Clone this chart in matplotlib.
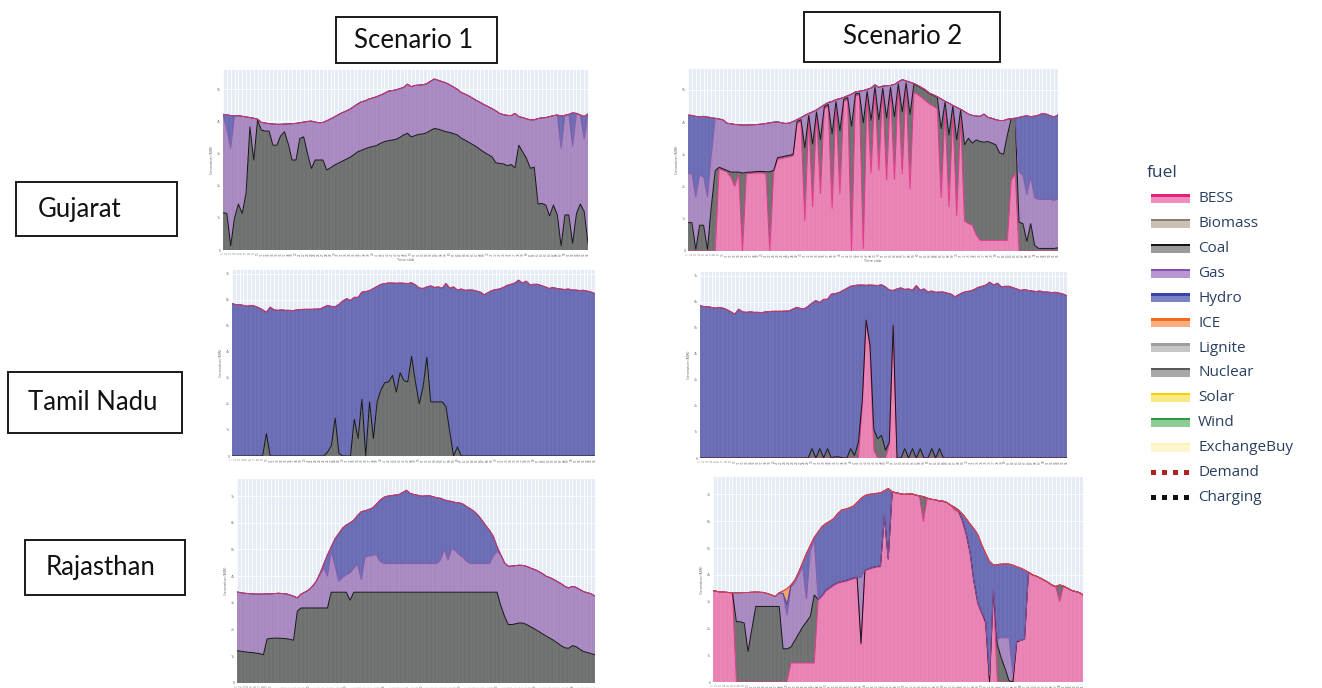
import numpy as np
import matplotlib.pyplot as plt
from matplotlib.patches import Rectangle

plt.rcParams['font.family'] = ['Open Sans', 'DejaVu Sans']

W, H = 1322, 688
slots = np.arange(96)
slot_labels = [str(i + 1) for i in slots]

# ---------------- Gujarat (values in axis tick units) ----------------
guj_demand = [4.22, 4.21, 4.18, 4.17, 4.18, 4.16, 4.14, 4.12, 4.10, 4.07,
              3.97, 3.95, 3.93, 3.92, 3.91, 3.91, 3.92, 3.92, 3.93, 3.94,
              3.96, 3.98, 4.00, 4.01, 3.98, 3.96, 3.97, 4.02, 4.08, 4.14,
              4.21, 4.27, 4.32, 4.38, 4.46, 4.54, 4.61, 4.64, 4.70, 4.73,
              4.77, 4.82, 4.87, 4.94, 4.96, 4.98, 5.02, 5.06, 5.16, 5.08,
              5.12, 5.13, 5.14, 5.17, 5.25, 5.32, 5.28, 5.24, 5.20, 5.14,
              5.07, 5.00, 4.90, 4.85, 4.79, 4.72, 4.65, 4.59, 4.52, 4.46,
              4.40, 4.33, 4.25, 4.21, 4.19, 4.18, 4.25, 4.15, 4.12, 4.08,
              4.05, 4.05, 4.09, 4.11, 4.12, 4.15, 4.18, 4.20, 4.17, 4.19,
              4.22, 4.27, 4.25, 4.20, 4.16, 4.23]

# scenario 1: stacked tops (coal, gas), hydro fills up to demand
guj1_coal = [1.16, 1.14, 0.13, 1.00, 1.43, 1.14, 1.76, 3.83, 2.80, 4.04,
             3.73, 3.70, 3.70, 3.26, 3.26, 3.55, 3.68, 3.30, 2.80, 2.80,
             3.47, 3.52, 3.00, 2.54, 2.80, 2.80, 2.80, 2.49, 2.56, 2.64,
             2.70, 2.76, 2.82, 2.88, 2.96, 3.05, 3.10, 3.15, 3.19, 3.22,
             3.25, 3.32, 3.37, 3.40, 3.42, 3.44, 3.50, 3.58, 3.63, 3.52,
             3.56, 3.60, 3.61, 3.65, 3.72, 3.78, 3.76, 3.72, 3.68, 3.66,
             3.62, 3.58, 3.48, 3.42, 3.35, 3.28, 3.21, 3.12, 3.04, 2.97,
             2.90, 2.72, 2.69, 2.68, 2.62, 2.66, 2.56, 3.26, 3.05, 2.85,
             2.54, 2.58, 1.43, 1.45, 1.40, 1.06, 1.40, 1.10, 0.13, 1.09,
             1.09, 0.21, 1.14, 1.43, 1.20, 0.21]
guj1_gas = ([4.22, 3.75, 3.16] + guj_demand[3:88]
            + [3.16, 4.19, 4.22, 3.23, 4.25, 4.20, 3.45, 4.23])

# scenario 2: stacked tops (bess, coal, gas), hydro up to demand
guj2_bess = [0, 0, 0, 0, 0, 0, 0, 0,
             2.55, 2.50, 2.45, 2.30, 2.00, 2.40, 0.00, 2.40, 2.40, 2.42,
             2.42, 2.42, 2.40, 0.00, 2.45, 2.85, 2.87, 2.90, 2.92, 2.95,
             3.96, 4.02, 0.93, 4.15, 1.37, 4.26, 1.78, 4.42, 4.49, 1.32,
             4.58, 1.78, 4.65, 4.70, 0.00, 4.82, 4.84, 0.07, 4.90, 2.41,
             5.04, 2.50, 5.00, 2.20, 5.02, 2.23, 5.13, 2.40, 5.16, 1.92,
             4.93, 4.85, 4.77, 4.66, 4.56, 4.50, 4.41, 1.66, 4.35, 1.37,
             4.25, 1.10, 4.15, 0.93, 0.85, 0.80, 0.50, 0.33, 0.33, 0.33,
             0.33, 0.33, 0.33, 0.33, 0.33, 2.20, 2.40, 0, 0, 0,
             0, 0, 0, 0, 0, 0, 0, 0]
guj2_coal = [0.88, 0.88, 0.05, 0.80, 0.80, 0.05, 1.40, 2.50,
             2.60, 2.55, 2.50, 2.45, 2.45, 2.45, 2.42, 2.44, 2.45, 2.46,
             2.47, 2.47, 2.46, 2.46, 2.50, 2.90, 2.92, 2.95, 2.97, 3.00,
             4.02, 4.08, 3.21, 4.21, 3.32, 4.32, 3.46, 4.48, 4.55, 3.64,
             4.64, 3.73, 4.71, 4.76, 3.87, 4.88, 4.90, 3.98, 4.96, 4.06,
             5.10, 4.08, 5.06, 4.13, 5.08, 4.17, 5.19, 4.32, 5.22, 4.24,
             5.18, 5.12, 5.05, 4.98, 4.88, 4.83, 4.77, 3.80, 4.63, 3.60,
             4.50, 3.45, 4.38, 3.30, 3.50, 3.35, 3.45, 3.40, 3.38, 3.40,
             3.35, 3.30, 3.05, 3.00, 3.60, 4.11, 4.12, 0.90, 0.85, 0.30,
             0.85, 0.18, 0.08, 0.08, 0.08, 0.08, 0.08, 0.10]
guj2_gas = ([2.40, 2.40, 1.68, 2.35, 2.30, 1.68, 3.00] + guj_demand[7:85]
            + [2.45, 2.35, 1.75, 2.30, 1.65, 1.60, 1.60, 1.60, 1.60, 1.57, 1.62])

# ---------------- Tamil Nadu ----------------
tn_demand = [5.86, 5.82, 5.82, 5.79, 5.76, 5.79, 5.76, 5.70, 5.62, 5.53,
             5.72, 5.62, 5.60, 5.62, 5.60, 5.60, 5.59, 5.62, 5.63, 5.64,
             5.64, 5.64, 5.65, 5.65, 5.72, 5.79, 5.75, 5.74, 5.83, 5.96,
             6.05, 5.98, 6.10, 6.10, 6.30, 6.32, 6.36, 6.44, 6.52, 6.60,
             6.63, 6.65, 6.65, 6.64, 6.65, 6.64, 6.63, 6.66, 6.58, 6.46,
             6.44, 6.50, 6.54, 6.48, 6.50, 6.45, 6.63, 6.45, 6.50, 6.38,
             6.42, 6.37, 6.38, 6.38, 6.34, 6.30, 6.20, 6.28, 6.36, 6.40,
             6.42, 6.48, 6.56, 6.60, 6.65, 6.76, 6.65, 6.72, 6.58, 6.60,
             6.60, 6.55, 6.50, 6.44, 6.48, 6.44, 6.42, 6.40, 6.42, 6.38,
             6.38, 6.36, 6.37, 6.34, 6.30, 6.24]
tn1_coal = ([0] * 9 + [0.86] + [0] * 15
            + [0.15, 0.40, 1.46, 0.10, 0, 0, 0,
               1.41, 0.67, 2.18, 0.00, 2.08, 0.67, 2.10, 2.55, 2.82, 2.85,
               3.10, 2.46, 3.20, 2.90, 2.85, 3.83, 2.85, 2.01, 2.65, 3.80,
               2.08, 2.08, 2.08, 2.08, 1.90, 0.92, 0.00, 0.35]
            + [0] * 36)
tn2_bess = ([0] * 42 + [2.00, 5.30, 4.20, 0.30, 0, 0, 0, 0.50, 5.10] + [0] * 45)
tn2_coal = ([0] * 29
            + [0.36, 0, 0.36, 0, 0.36, 0, 0.05, 0.04, 0, 0,
               0.36, 0.10, 0.60, 2.20, 5.30, 4.35, 1.10, 0.74, 0.87, 0.30,
               0.60, 5.10, 0, 0, 0.36, 0, 0.36, 0, 0.36, 0,
               0, 0.36, 0, 0.36]
            + [0] * 33)

# ---------------- Rajasthan ----------------
raj_demand = [3.41, 3.38, 3.36, 3.35, 3.34, 3.33, 3.33, 3.33, 3.34, 3.34,
              3.35, 3.36, 3.35, 3.34, 3.30, 3.25, 3.19, 3.33, 3.40, 3.48,
              3.62, 3.80, 4.10, 4.45, 4.80, 5.10, 5.40, 5.60, 5.80, 5.92,
              6.00, 6.10, 6.28, 6.42, 6.45, 6.50, 6.56, 6.70, 6.85, 6.96,
              7.00, 7.02, 7.04, 7.06, 7.14, 7.22, 7.10, 7.06, 7.03, 7.00,
              7.01, 7.02, 6.98, 6.94, 6.92, 6.86, 6.82, 6.80, 6.76, 6.75,
              6.70, 6.60, 6.52, 6.42, 6.28, 6.10, 5.90, 5.72, 5.50, 5.12,
              4.80, 4.50, 4.37, 4.38, 4.40, 4.41, 4.40, 4.36, 4.30, 4.25,
              4.18, 4.10, 4.00, 3.95, 3.88, 3.80, 3.72, 3.62, 3.56, 3.62,
              3.58, 3.50, 3.42, 3.38, 3.34, 3.25]
raj1_coal = ([1.21, 1.19, 1.17, 1.15, 1.14, 1.12, 1.10, 1.06,
              1.65, 1.67, 1.68, 1.68, 1.67, 1.66, 1.64, 1.60, 2.69]
             + [2.81] * 8 + [3.40] * 5 + [3.10] + [3.40] * 39
             + [2.90, 2.50, 2.19, 2.19, 2.22, 2.25, 2.24, 2.18, 2.10, 2.02,
                1.94, 1.85, 1.76, 1.68, 1.60, 1.50, 1.40, 1.32, 1.30, 1.40,
                1.36, 1.26, 1.18, 1.14, 1.10, 1.06])
raj1_gas = (raj_demand[:22]
            + [4.05, 4.30, 4.00, 4.94, 4.40, 3.81, 3.95, 4.05, 4.12, 4.30,
               4.45, 3.87, 4.72, 4.75, 4.78, 4.80, 4.55]
            + [4.47] * 15
            + [4.60, 5.00, 4.60, 5.04, 4.95, 4.80, 4.70, 4.55]
            + [4.47] * 6 + [4.75, 4.92]
            + raj_demand[70:])

raj2_bess = (raj_demand[:6] + [0] * 14 + [0.71] * 7
             + [3.05, 3.20, 3.40, 3.50, 3.60, 3.68, 3.72, 3.75, 3.80, 3.85,
                3.88, 1.39, 4.15, 4.20, 4.25, 4.28, 4.30, 6.17, 4.56]
             + raj_demand[46:54] + [5.99] + raj_demand[55:62]
             + [6.42, 6.35, 6.00, 5.50, 4.80, 3.70, 2.90, 2.55, 2.20, 0.00,
                3.40, 0, 0, 0, 0, 0, 1.50, 1.55, 1.60]
             + raj_demand[81:89] + [3.00] + raj_demand[90:])
raj2_coal = (raj_demand[:6]
             + [2.25, 2.25, 2.20, 1.14, 2.00] + [2.82] * 7 + [1.24, 1.24]
             + [1.30, 1.55, 1.80, 2.05, 2.25, 2.45, 3.25]
             + [3.08, 3.23, 3.43, 3.53, 3.63, 3.71, 3.75, 3.78, 3.83, 3.88,
                3.91, 1.45, 4.18, 4.23, 4.28, 4.31, 4.33, 6.20, 4.60]
             + raj_demand[46:64]
             + [6.05, 5.55, 4.85, 3.75, 2.95, 2.60, 2.25, 0.00, 3.45, 1.40,
                0.90, 0.50, 0.05, 0.00, 1.50, 1.55, 1.60]
             + raj_demand[81:])
raj2_gas = (raj_demand[:18]
            + [3.30, 2.50, 3.55, 3.70, 4.00, 4.30, 3.10, 4.90, 5.30]
            + raj2_coal[27:38] + [3.90]
            + raj2_coal[39:70]
            + [2.30, 0.25, 3.50, 1.60, 1.65, 1.65, 1.65, 0.30, 1.55, 1.55, 1.60]
            + raj2_coal[81:])
raj2_hydro = (raj_demand[:18] + [3.30, 2.90, 3.60] + raj_demand[21:])

# ---------------- styles ----------------
BG = '#E5ECF6'
C_BESS = ('#E982B4', '#E3338A')
C_COAL = ('#6E7070', '#111111')
C_GAS = ('#A888C1', '#8455A8')
C_HYDRO = ('#696CB4', '#3D3F97')
C_ICE = ('#F3A36C', '#F07020')
DEMAND_LINE = '#D8345F'


def px_axes(fig, x0, y0, x1, y1):
    return fig.add_axes([x0 / W, 1 - y1 / H, (x1 - x0) / W, (y1 - y0) / H])


def draw_panel(ax, layers, demand, ytop, nticks, xtitle=False):
    ax.set_facecolor(BG)
    base = np.zeros(len(slots))
    for top, (fc, lc) in layers:
        top = np.asarray(top, dtype=float)
        ax.fill_between(slots, base, top, facecolor=fc, edgecolor='none',
                        lw=0, zorder=2)
        ax.plot(slots, top, color=lc, lw=0.7, zorder=3)
        base = top
    ax.plot(slots, demand, color=DEMAND_LINE, lw=0.7, zorder=4)
    ax.set_xlim(0, 95)
    ax.set_ylim(0, ytop)
    ax.set_xticks(slots)
    ax.set_xticklabels(slot_labels, rotation=90, fontsize=2.2, color='#666666')
    ticks = list(range(nticks + 1))
    ax.set_yticks(ticks)
    ax.set_yticklabels(['0'] + ['%dk' % t for t in ticks[1:]],
                       fontsize=2.6, color='#666666')
    ax.tick_params(length=0, pad=1.5)
    for s in ax.spines.values():
        s.set_visible(False)
    ax.set_axisbelow(True)
    ax.grid(True, color='white', lw=0.6, zorder=1)
    for i in slots:
        ax.axvline(i, color='white', lw=0.35, alpha=0.14, zorder=3.5)
    ax.set_ylabel('Generation (MW)', fontsize=2.6, color='#666666', labelpad=2)
    if xtitle:
        ax.set_xlabel('Time slab', fontsize=2.8, color='#666666', labelpad=2)


fig = plt.figure(figsize=(W / 100, H / 100), dpi=100)
fig.patch.set_facecolor('white')

ax = px_axes(fig, 223, 70, 588, 250)
draw_panel(ax, [(guj1_coal, C_COAL), (guj1_gas, C_GAS), (guj_demand, C_HYDRO)],
           guj_demand, 5.6, 5, xtitle=True)
ax = px_axes(fig, 688, 69, 1058, 251)
draw_panel(ax, [(guj2_bess, C_BESS), (guj2_coal, C_COAL), (guj2_gas, C_GAS),
                (guj_demand, C_HYDRO)], guj_demand, 5.65, 5, xtitle=True)

ax = px_axes(fig, 232, 270, 595, 456)
draw_panel(ax, [(tn1_coal, C_COAL), (tn_demand, C_HYDRO)], tn_demand, 7.15, 7)
ax = px_axes(fig, 700, 272, 1067, 458)
draw_panel(ax, [(tn2_bess, C_BESS), (tn2_coal, C_COAL), (tn_demand, C_HYDRO)],
           tn_demand, 7.15, 7)

ax = px_axes(fig, 237, 479, 595, 683)
draw_panel(ax, [(raj1_coal, C_COAL), (raj1_gas, C_GAS), (raj_demand, C_HYDRO)],
           raj_demand, 7.64, 7)
ax = px_axes(fig, 713, 477, 1083, 682)
draw_panel(ax, [(raj2_bess, C_BESS), (raj2_coal, C_COAL), (raj2_gas, C_GAS),
                (raj2_hydro, C_HYDRO), (raj_demand, C_ICE)], raj_demand, 7.65, 7)


# ---------------- labelled boxes ----------------
def box(x0, y0, x1, y1, text, xc, size=18.5):
    fig.add_artist(Rectangle((x0 / W, 1 - y1 / H), (x1 - x0) / W, (y1 - y0) / H,
                             transform=fig.transFigure, fill=False,
                             edgecolor='#1a1a1a', lw=1.4))
    fig.text(xc / W, 1 - (y0 + y1) / 2 / H, text, ha='center',
             va='center', fontsize=size, family=['Lato', 'DejaVu Sans'],
             color='#111111')


box(336, 17, 497, 63, 'Scenario 1', 414)
box(804, 12, 1000, 62, 'Scenario 2', 903)
box(16, 182, 177, 236, 'Gujarat', 80)
box(8, 372, 182, 433, 'Tamil Nadu', 93)
box(25, 540, 185, 595, 'Rajasthan', 101)

# ---------------- legend ----------------
legend_names = ['BESS', 'Biomass', 'Coal', 'Gas', 'Hydro', 'ICE', 'Lignite',
                'Nuclear', 'Solar', 'Wind', 'ExchangeBuy', 'Demand', 'Charging']
legend_colors = [('#F08DBD', '#E5207F'), ('#CBC1B3', '#8C7E6C'),
                 ('#9A9A9A', '#151515'), ('#B896D2', '#8650B0'),
                 ('#7C82C6', '#3A44A8'), ('#F8AE80', '#F26B1D'),
                 ('#C6C6C6', '#9E9E9E'), ('#A8A8A8', '#5A5A5A'),
                 ('#FBE985', '#F5CF00'), ('#8FCB95', '#2E9A3E'),
                 ('#FFF6CF', '#FFF0B8'), '#B22222', '#111111']
TXT = '#2A3F5F'
fig.text(1147 / W, 1 - 173 / H, 'fuel', fontsize=12.5, color=TXT, va='center')
for k, (name, col) in enumerate(zip(legend_names, legend_colors)):
    yc = 199 + 24.85 * k
    if isinstance(col, tuple):
        fig.add_artist(Rectangle((1151 / W, 1 - (yc + 4) / H), 39 / W, 7 / H,
                                 transform=fig.transFigure, facecolor=col[0],
                                 edgecolor='none'))
        fig.add_artist(Rectangle((1151 / W, 1 - (yc - 2.5) / H), 39 / W, 2.5 / H,
                                 transform=fig.transFigure, facecolor=col[1],
                                 edgecolor='none'))
    else:
        for j in range(4):
            fig.add_artist(Rectangle(((1151 + 11 * j) / W, 1 - (yc + 2.5) / H),
                                     5 / W, 5 / H, transform=fig.transFigure,
                                     facecolor=col, edgecolor='none'))
    fig.text(1198 / W, 1 - yc / H, name, fontsize=11, color=TXT, va='center')

fig.savefig('out.png', dpi=100, facecolor='white')
